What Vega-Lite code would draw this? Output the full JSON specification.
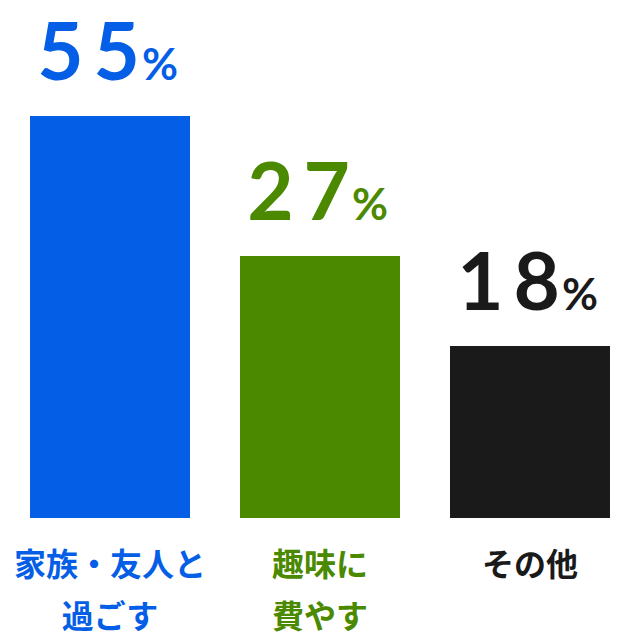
{
  "$schema": "https://vega.github.io/schema/vega-lite/v6.json",
  "autosize": "none",
  "width": 640,
  "height": 518,
  "padding": {"top": 0, "left": 0, "right": 0, "bottom": 124},
  "background": "white",
  "config": {"view": {"stroke": null}},
  "data": {
    "values": [
      {"item": "家族・友人と/過ごす", "pct": 55, "color": "#055ee6"},
      {"item": "趣味に/費やす", "pct": 27, "color": "#4a8900"},
      {"item": "その他", "pct": 18, "color": "#1a1a1a"}
    ]
  },
  "encoding": {
    "x": {
      "field": "item",
      "type": "nominal",
      "sort": null,
      "scale": {"paddingInner": 0.2381, "paddingOuter": 0.1429},
      "axis": {
        "title": null,
        "domain": false,
        "ticks": false,
        "labelAngle": 0,
        "labelPadding": 32,
        "labelLimit": 400,
        "labelFont": "Noto Sans CJK JP",
        "labelFontWeight": "bold",
        "labelFontSize": 32,
        "labelLineHeight": 52,
        "labelBaseline": "top",
        "labelExpr": "split(datum.label, '/')",
        "labelColor": {
          "condition": [
            {"test": "indexof(datum.value, '家族') == 0", "value": "#055ee6"},
            {"test": "indexof(datum.value, '趣味') == 0", "value": "#4a8900"}
          ],
          "value": "#1a1a1a"
        }
      }
    },
    "y": {
      "field": "pct",
      "type": "quantitative",
      "scale": {"domain": [0, 18, 27, 55], "range": [518, 346, 256, 116], "nice": false, "zero": true},
      "axis": null
    },
    "color": {"field": "color", "type": "nominal", "scale": null, "legend": null}
  },
  "layer": [
    {"mark": {"type": "bar"}},
    {
      "transform": [
        {"calculate": "join(split(toString(datum.pct), ''), '\u2009')", "as": "num"}
      ],
      "mark": {
        "type": "text",
        "align": "right",
        "baseline": "alphabetic",
        "dx": 30,
        "dy": -36,
        "font": "Lato",
        "fontWeight": "bold",
        "fontSize": 80
      },
      "encoding": {"text": {"field": "num", "type": "nominal"}}
    },
    {
      "mark": {
        "type": "text",
        "align": "left",
        "baseline": "alphabetic",
        "dx": 32,
        "dy": -36,
        "font": "Lato",
        "fontWeight": "bold",
        "fontSize": 44,
        "text": "%"
      }
    }
  ]
}
